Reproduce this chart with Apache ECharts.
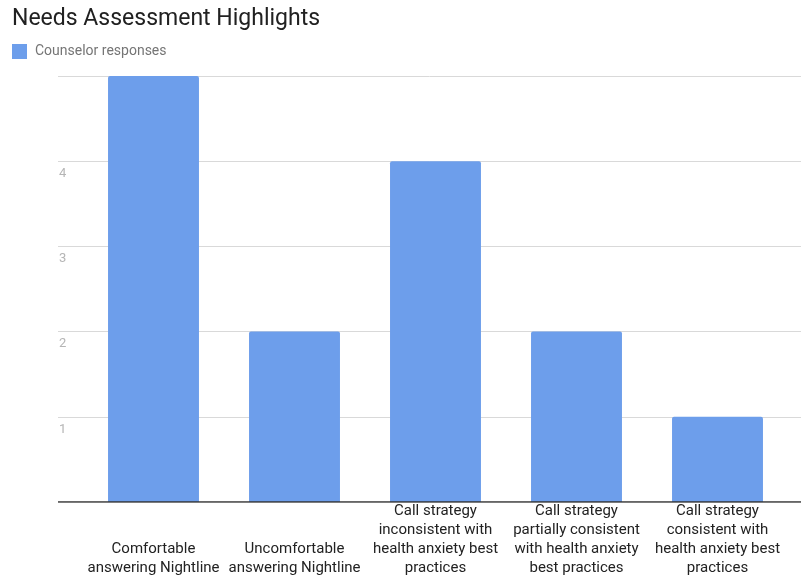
<!DOCTYPE html>
<html><head><meta charset="utf-8">
<script src="https://cdn.jsdelivr.net/npm/echarts@6/dist/echarts.min.js"></script>
<style>html,body{margin:0;padding:0;background:#fff}#c{width:801px;height:577px}</style>
</head><body><div id="c"></div>
<script>
const categories = [
  "\n\nComfortable\nanswering Nightline",
  "\n\nUncomfortable\nanswering Nightline",
  "Call strategy\ninconsistent with\nhealth anxiety best\npractices",
  "Call strategy\npartially consistent\nwith health anxiety\nbest practices",
  "Call strategy\nconsistent with\nhealth anxiety best\npractices"
];
const counselorResponses = [5, 2, 4, 2, 1];
const yTicks = [1, 2, 3, 4];
const chart = echarts.init(document.getElementById('c'));
chart.setOption({
  animation: false,
  textStyle: { fontFamily: 'Roboto' },
  title: { text: 'Needs Assessment Highlights', left: 7, top: 3,
    textStyle: { fontSize: 23, fontWeight: 'normal', color: '#212121', fontFamily: 'Roboto' } },
  legend: { left: 7, top: 39, itemWidth: 15, itemHeight: 15, itemGap: 10,
    icon: 'rect', textStyle: { fontSize: 14, color: '#757575', fontFamily: 'Roboto', padding: [0, 0, 0, 3] },
    data: ['Counselor responses'] },
  grid: [
    { left: 58, right: 0, top: 76, bottom: 75, outerBoundsMode: 'none', containLabel: false },
    { left: 83, right: 13, top: 76, bottom: 75, outerBoundsMode: 'none', containLabel: false }
  ],
  xAxis: [
    { gridIndex: 0, type: 'value', show: false, min: 0, max: 1 },
    { gridIndex: 1, type: 'category', data: categories,
      axisLine: { show: false }, axisTick: { show: false },
      axisLabel: { color: '#222', fontSize: 15, lineHeight: 19, margin: 0, interval: 0, fontFamily: 'Roboto' } }
  ],
  yAxis: [
    { gridIndex: 0, type: 'value', min: 0, max: 5, interval: 1,
      axisLine: { show: false }, axisTick: { show: false },
      splitLine: { lineStyle: { color: '#d9d9d9', width: 1 } },
      axisLabel: { inside: true, margin: 1, verticalAlign: 'top', padding: [6, 0, 0, 0],
        color: '#b5b5b5', fontSize: 13,
        formatter: v => yTicks.includes(v) ? String(v) : '' } },
    { gridIndex: 1, type: 'value', min: 0, max: 5, interval: 1, show: false }
  ],
  series: [
    { type: 'line', xAxisIndex: 0, yAxisIndex: 0, data: [[0, 0], [1, 0]],
      symbol: 'none', lineStyle: { color: '#333', width: 1.5 }, silent: true, name: 'base' },
    { name: 'Counselor responses', type: 'bar', xAxisIndex: 1, yAxisIndex: 1,
      data: counselorResponses, barCategoryGap: '35.5%',
      itemStyle: { color: '#6d9eeb', borderRadius: [2, 2, 0, 0] } }
  ]
});
</script></body></html>
